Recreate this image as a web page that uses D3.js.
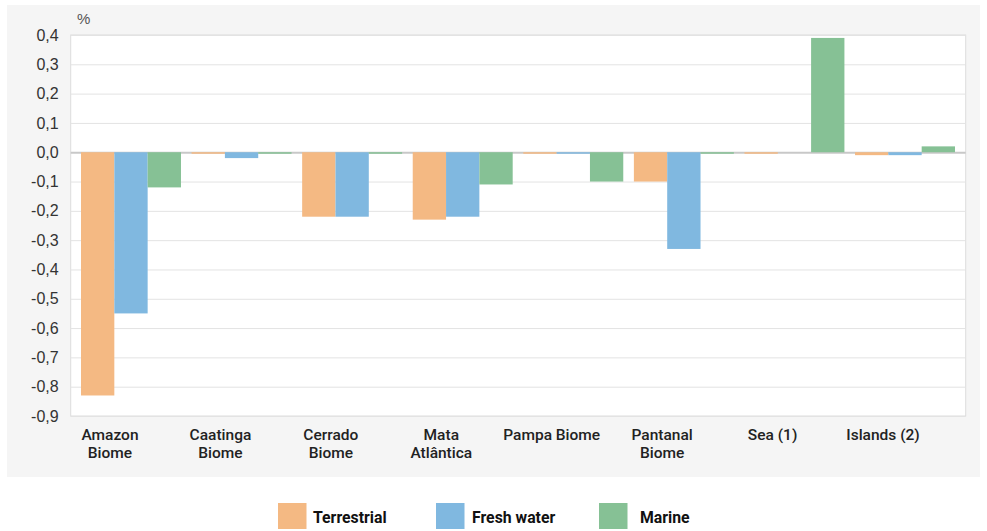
<!DOCTYPE html>
<html><head><meta charset="utf-8">
<script src="https://cdn.jsdelivr.net/npm/d3@7"></script>
<style>body{margin:0;background:#fff;} svg{display:block;}</style>
</head><body>
<svg id="chart" width="987" height="531"></svg>
<script>
const categories = [["Amazon","Biome"],["Caatinga","Biome"],["Cerrado","Biome"],["Mata","Atlântica"],["Pampa Biome"],["Pantanal","Biome"],["Sea (1)"],["Islands (2)"]];
const seriesNames = ["Terrestrial","Fresh water","Marine"];
const terrestrial = [-0.83, -0.003, -0.22, -0.23, -0.003, -0.10, -0.003, -0.01];
const freshWater  = [-0.55, -0.02, -0.22, -0.22, -0.003, -0.33, 0, -0.01];
const marine      = [-0.12, -0.003, -0.003, -0.11, -0.10, -0.003, 0.39, 0.02];
const yTicks = [0.4,0.3,0.2,0.1,0,-0.1,-0.2,-0.3,-0.4,-0.5,-0.6,-0.7,-0.8,-0.9];
const colors = ["#f4b983","#80b8e0","#86c195"];

const series = [terrestrial, freshWater, marine];
const svg = d3.select("#chart");
const m = {l:70.7, r:965.7, t:35, b:416};

svg.append("rect").attr("x",7).attr("y",5).attr("width",973).attr("height",472).attr("fill","#f5f5f5");
svg.append("rect").attr("x",m.l).attr("y",m.t).attr("width",m.r-m.l).attr("height",m.b-m.t).attr("fill","#fff").attr("stroke","#dcdcdc");

const x = d3.scaleBand().domain(d3.range(categories.length)).range([75.7,960.3]).paddingInner(0.096).paddingOuter(0.048);
const xs = d3.scaleBand().domain(d3.range(series.length)).range([0,x.bandwidth()]);
const xLab = d3.scalePoint().domain(d3.range(categories.length)).range([110,883]);
const y = d3.scaleLinear().domain([-0.9,0.4]).range([m.b,m.t]);

// grid
const yAxis = d3.axisLeft(y).tickValues(yTicks).tickSize(-(m.r-m.l)).tickFormat(d=>d3.format(".1f")(d).replace(".",",").replace("−","-"));
const ga = svg.append("g").attr("transform",`translate(${m.l},0)`).call(yAxis);
ga.select(".domain").remove();
ga.selectAll(".tick line").attr("stroke",d=>d===0?"#c8c8c8":"#e3e3e3").attr("stroke-width",d=>d===0?2:1);
ga.selectAll(".tick text").attr("x",-12).attr("fill","#333").style("font-family","Liberation Sans, Arial, sans-serif").style("font-size","16px");

// bars
series.forEach((s,si)=>{
  svg.append("g").selectAll("rect").data(s).join("rect")
    .attr("x",(d,i)=>x(i)+xs(si))
    .attr("width",xs.bandwidth())
    .attr("y",d=>d>=0?y(d):y(0))
    .attr("height",d=>{const h=Math.abs(y(d)-y(0)); return d===0?0:Math.max(h,1.5);})
    .attr("fill",colors[si]);
});

svg.append("text").attr("x",77).attr("y",24).text("%").attr("fill","#555")
  .style("font-family","Liberation Sans, Arial, sans-serif").style("font-size","15px");

// x labels
const xl = svg.append("g");
categories.forEach((c,i)=>{
  const cx = xLab(i);
  const t = xl.append("text").attr("x",cx).attr("y",440).attr("text-anchor","middle")
    .attr("fill","#222").style("font-family","Roboto, sans-serif").style("font-weight","500").style("font-size","15.5px");
  c.forEach((line,li)=>t.append("tspan").attr("x",cx).attr("dy",li===0?0:18).text(line));
});

// legend
const legX = [278, 436, 599];
const txtOff = [35, 36, 41];
seriesNames.forEach((n,i)=>{
  svg.append("rect").attr("x",legX[i]).attr("y",503).attr("width",28.5).attr("height",26).attr("fill",colors[i]);
  svg.append("text").attr("x",legX[i]+txtOff[i]).attr("y",523).text(n).attr("fill","#111")
    .style("font-family","Roboto, sans-serif").style("font-weight","700").style("font-size","15.8px");
});
</script>
</body></html>
